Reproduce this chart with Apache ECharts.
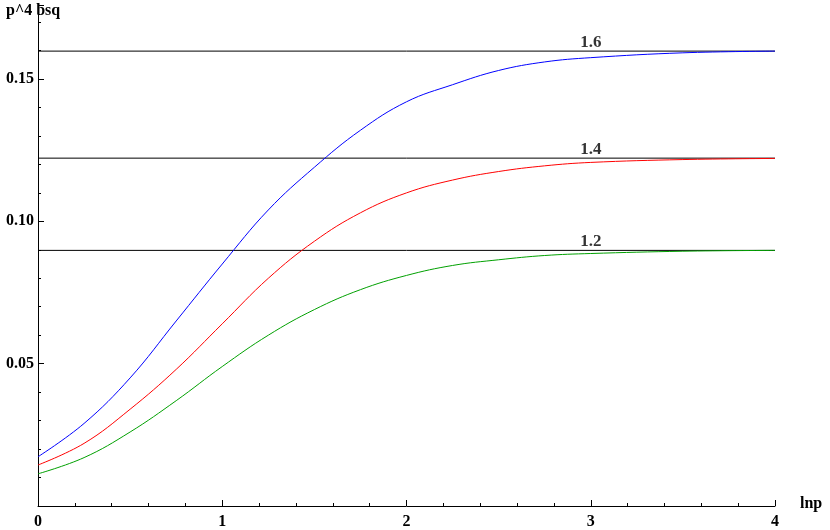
<!DOCTYPE html>
<html>
<head>
    <meta charset="utf-8">
    <script src="https://cdn.jsdelivr.net/npm/echarts@6/dist/echarts.min.js"></script>
    <style>
        body { margin: 0; background: #fff; }
        #chart { width: 830px; height: 530px; }
    </style>
</head>
<body>
    <div id="chart"></div>
    <script>
        // x 值
        const xs = [0, 0.25, 0.5, 0.75, 1, 1.25, 1.5, 1.75, 2, 2.25, 2.5, 2.75, 3, 3.5, 4];
        // 曲线数据
        const blueY = [0.0173, 0.029, 0.045, 0.065, 0.085, 0.104, 0.119, 0.132, 0.142, 0.148, 0.153, 0.156, 0.1575, 0.1592, 0.1598];
        const redY = [0.0144, 0.022, 0.034, 0.048, 0.064, 0.080, 0.093, 0.103, 0.110, 0.1145, 0.1175, 0.1195, 0.1207, 0.1217, 0.1221];
        const greenY = [0.0113, 0.017, 0.026, 0.037, 0.049, 0.060, 0.069, 0.076, 0.081, 0.0845, 0.0865, 0.088, 0.0887, 0.0895, 0.0898];
        // 水平参考线
        const levelNames = ['1.6', '1.4', '1.2'];
        const levelValues = [0.1598, 0.1222, 0.0898];
        const colors = ['#0000ff', '#ff0000', '#00a000'];

        const font = { fontFamily: 'Liberation Serif', fontWeight: 'bold', fontSize: 16, color: '#000' };
        const zip = ys => xs.map((x, i) => [x, ys[i]]);

        const series = [];
        levelValues.forEach((v, i) => {
            series.push({
                type: 'line', data: [[0, v], [4, v]], symbol: 'none', silent: true,
                lineStyle: { color: '#000', width: 1, opacity: 1 }
            });
            series.push({
                type: 'scatter', data: [[3.0, v]], symbolSize: 0, silent: true,
                label: { show: true, position: 'top', distance: 0, formatter: levelNames[i], ...font, fontSize: 17 }
            });
        });
        [blueY, redY, greenY].forEach((ys, i) => {
            series.push({
                type: 'line', data: zip(ys), smooth: 0.4, symbol: 'none',
                lineStyle: { color: colors[i], width: 1 }
            });
        });

        const chart = echarts.init(document.getElementById('chart'));
        chart.setOption({
            animation: false,
            grid: { left: 38, right: 55, top: 5, bottom: 24 },
            xAxis: {
                type: 'value', min: 0, max: 4, interval: 1,
                axisLine: { lineStyle: { color: '#000' } },
                axisTick: { inside: true, length: 6, lineStyle: { color: '#000' } },
                minorTick: { show: true, splitNumber: 5, length: 3, lineStyle: { color: '#000' } },
                splitLine: { show: false },
                axisLabel: { ...font, margin: 8 }
            },
            yAxis: {
                type: 'value', min: 0, max: 0.176, interval: 0.05,
                axisLine: { show: true, lineStyle: { color: '#000' } },
                axisTick: { show: true, inside: true, length: 6, lineStyle: { color: '#000' } },
                minorTick: { show: true, splitNumber: 5, length: 3, lineStyle: { color: '#000' } },
                splitLine: { show: false },
                axisLabel: {
                    ...font, margin: 4, showMaxLabel: false,
                    formatter: v => (v === 0 || v > 0.16) ? '' : v.toFixed(2)
                }
            },
            graphic: [
                { type: 'text', left: 6, top: 3, style: { text: 'p^4 bsq', font: 'bold 16px "Liberation Serif"', fill: '#000' } },
                { type: 'text', left: 800, top: 496, style: { text: 'lnp', font: 'bold 16px "Liberation Serif"', fill: '#000' } }
            ],
            series: series
        });
    </script>
</body>
</html>
